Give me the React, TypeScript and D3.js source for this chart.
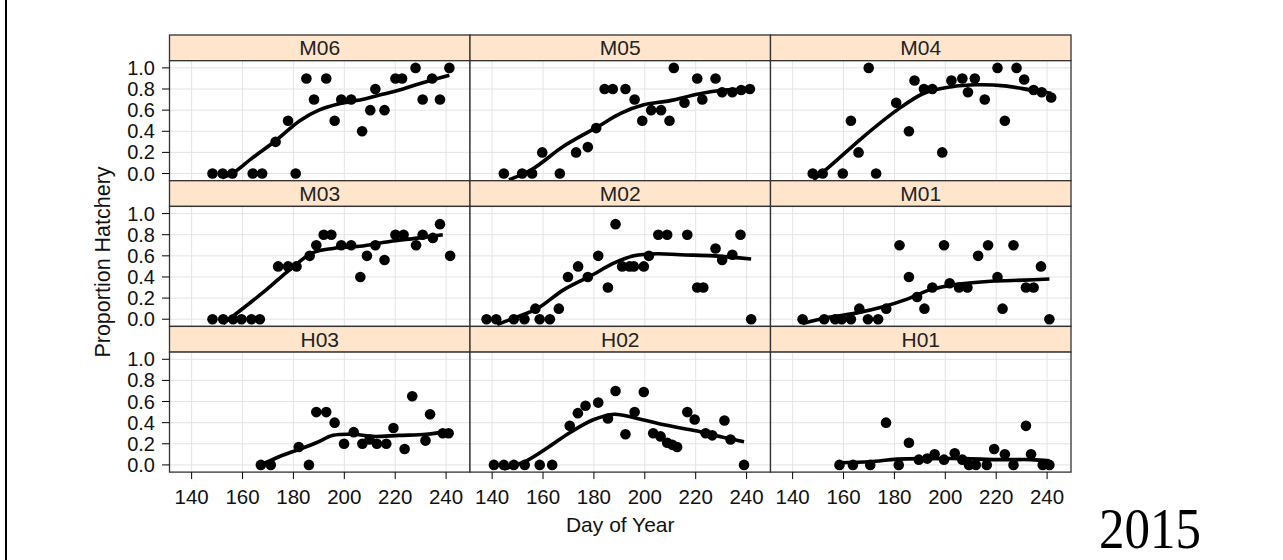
import React from "react";
import * as d3 from "d3";

// ---------- DATA ----------
const panelNames = ["M06", "M05", "M04", "M03", "M02", "M01", "H03", "H02", "H01"];
const xTicks = [140, 160, 180, 200, 220, 240];
const yTicks = [0, 0.2, 0.4, 0.6, 0.8, 1.0];
const yearLabel = "2015";

const m06Points: [number, number][] = [
  [148.2, 0], [152.2, 0], [156, 0], [164, 0], [167.7, 0], [173, 0.3], [177.9, 0.5], [180.9, 0],
  [185.1, 0.9], [188.1, 0.7], [192.9, 0.9], [196.2, 0.5], [198.8, 0.7], [202.7, 0.7], [207, 0.4],
  [210.2, 0.6], [212.2, 0.8], [215.8, 0.6], [220.1, 0.9], [222.7, 0.9], [228, 1.0], [230.8, 0.7],
  [234.5, 0.9], [237.6, 0.7], [241.3, 1.0],
];
const m06Smooth: [number, number][] = [
  [152, -0.04], [156, 0.0], [164, 0.15], [173, 0.31], [182.5, 0.5], [190, 0.6], [198, 0.66],
  [207, 0.7], [215, 0.75], [221.7, 0.79], [229.5, 0.85], [241.3, 0.93],
];

const m05Points: [number, number][] = [
  [144.6, 0], [151.8, 0], [155.7, 0], [159.7, 0.2], [166.6, 0], [173, 0.2], [177.6, 0.25],
  [180.9, 0.43], [184.2, 0.8], [187.4, 0.8], [192.4, 0.8], [196, 0.7], [199, 0.5], [202.5, 0.6],
  [206.4, 0.6], [209.7, 0.5], [211.4, 1.0], [215.6, 0.67], [220.6, 0.9], [222.6, 0.7], [227.8, 0.9],
  [230.4, 0.77], [234.4, 0.77], [237.9, 0.79], [241.3, 0.8],
];
const m05Smooth: [number, number][] = [
  [146.6, -0.06], [155.7, 0.04], [168.2, 0.26], [181.3, 0.44], [190.5, 0.57], [199.6, 0.65],
  [210, 0.69], [220.6, 0.75], [231, 0.79], [241.6, 0.8],
];

const m04Points: [number, number][] = [
  [147.9, 0], [151.8, 0], [159.7, 0], [162.9, 0.5], [165.9, 0.2], [169.9, 1.0], [172.8, 0],
  [180.7, 0.67], [185.7, 0.4], [187.9, 0.88], [191.6, 0.8], [194.9, 0.8], [198.8, 0.2],
  [202.4, 0.88], [206.7, 0.9], [208.9, 0.77], [211.6, 0.9], [215.5, 0.7], [220.5, 1.0],
  [223.4, 0.5], [228, 1.0], [231, 0.89], [234.7, 0.79], [237.9, 0.77], [241.6, 0.72],
];
const m04Smooth: [number, number][] = [
  [148.2, -0.06], [154.7, 0.07], [167.9, 0.35], [181, 0.6], [191.6, 0.76], [202, 0.82],
  [212.6, 0.84], [223.2, 0.83], [233.7, 0.79], [241.6, 0.76],
];

const m03Points: [number, number][] = [
  [148.2, 0], [152.4, 0], [156.3, 0], [159.6, 0], [163.5, 0], [166.8, 0], [174, 0.5], [177.9, 0.5],
  [181.2, 0.5], [186.4, 0.6], [189, 0.7], [191.9, 0.8], [194.9, 0.8], [198.8, 0.7], [202.7, 0.7],
  [206.3, 0.4], [208.9, 0.6], [212.2, 0.7], [215.8, 0.56], [220.1, 0.8], [223.3, 0.8], [228.2, 0.7],
  [230.8, 0.8], [234.8, 0.77], [237.6, 0.9], [241.6, 0.6],
];
const m03Smooth: [number, number][] = [
  [152.4, -0.04], [156.3, 0.03], [169.4, 0.28], [178.6, 0.47], [187.7, 0.63], [195.6, 0.67],
  [206, 0.69], [219, 0.74], [229.5, 0.77], [238.7, 0.8],
];

const m02Points: [number, number][] = [
  [137.8, 0], [141.6, 0], [148.5, 0], [152.7, 0], [157, 0.1], [158.7, 0], [162.7, 0], [166.2, 0.1],
  [169.8, 0.4], [173.8, 0.5], [177.6, 0.4], [181.7, 0.6], [185.5, 0.3], [188.5, 0.9], [191.1, 0.5],
  [194, 0.5], [195.7, 0.5], [199.6, 0.5], [201.6, 0.6], [205.3, 0.8], [208.8, 0.8], [216.7, 0.8],
  [220.6, 0.3], [223, 0.3], [227.8, 0.67], [230.4, 0.56], [234.4, 0.61], [237.6, 0.8], [241.8, 0],
];
const m02Smooth: [number, number][] = [
  [142, -0.05], [148.5, 0.01], [157.7, 0.1], [168.2, 0.28], [178.7, 0.41], [187.8, 0.53],
  [195.7, 0.6], [204.9, 0.62], [214, 0.61], [227.2, 0.6], [241.8, 0.57],
];

const m01Points: [number, number][] = [
  [143.9, 0], [152.4, 0], [156.7, 0], [159.3, 0], [162.9, 0], [166.2, 0.1], [169.6, 0], [173.6, 0],
  [176.8, 0.1], [182, 0.7], [185.7, 0.4], [188.9, 0.21], [191.8, 0.1], [194.9, 0.3], [199.5, 0.7],
  [201.7, 0.34], [205.4, 0.3], [208.7, 0.3], [212.9, 0.6], [216.8, 0.7], [220.5, 0.4], [222.5, 0.1],
  [226.8, 0.7], [231.7, 0.3], [234.7, 0.3], [237.6, 0.5], [240.9, 0],
];
const m01Smooth: [number, number][] = [
  [143.9, -0.04], [154.7, 0.02], [165.3, 0.06], [174.5, 0.11], [185, 0.19], [194.2, 0.28],
  [204.7, 0.33], [217.9, 0.36], [231, 0.37], [240.9, 0.38],
];

const h03Points: [number, number][] = [
  [167.2, 0], [171.1, 0], [182.1, 0.17], [186.1, 0], [189, 0.5], [192.9, 0.5], [196.2, 0.4],
  [199.9, 0.2], [203.7, 0.31], [207.1, 0.2], [209.9, 0.24], [212.8, 0.2], [216.5, 0.2],
  [219.3, 0.35], [223.7, 0.15], [226.7, 0.65], [231.9, 0.23], [233.7, 0.48], [238.7, 0.3], [241, 0.3],
];
const h03Smooth: [number, number][] = [
  [167.2, 0], [174.6, 0.08], [182.5, 0.15], [189, 0.21], [195.6, 0.28], [203.4, 0.29],
  [211.2, 0.27], [221.7, 0.28], [232.2, 0.29], [241.3, 0.32],
];

const h02Points: [number, number][] = [
  [140.7, 0], [144.6, 0], [148.5, 0], [152.8, 0], [158.7, 0], [163.6, 0], [170.5, 0.37],
  [173.7, 0.49], [176.7, 0.56], [181.7, 0.59], [185.5, 0.44], [188.5, 0.7], [192.4, 0.29],
  [196, 0.5], [199.6, 0.69], [203.3, 0.3], [206.2, 0.27], [208.8, 0.21], [210.8, 0.19],
  [212.7, 0.17], [216.7, 0.5], [219.6, 0.43], [223.9, 0.3], [226.5, 0.28], [231.3, 0.42],
  [233.7, 0.24], [239, 0],
];
const h02Smooth: [number, number][] = [
  [144.6, -0.04], [152.8, 0.03], [161.6, 0.16], [170.8, 0.31], [180, 0.43], [188, 0.48],
  [197, 0.44], [207.5, 0.38], [220.6, 0.32], [231.1, 0.26], [239, 0.22],
];

const h01Points: [number, number][] = [
  [158.4, 0], [163.7, 0], [170.5, 0], [176.7, 0.4], [181.7, 0], [185.7, 0.21], [189.6, 0.05],
  [192.9, 0.06], [195.8, 0.1], [199.5, 0.05], [203.7, 0.11], [206.7, 0.05], [209.3, 0], [212, 0],
  [216.3, 0], [219.2, 0.15], [223.4, 0.1], [226.8, 0], [231.7, 0.37], [233.7, 0.1], [238.3, 0],
  [240.9, 0],
];
const h01Smooth: [number, number][] = [
  [158.4, 0.02], [170.5, 0.03], [181, 0.055], [194.2, 0.06], [207.4, 0.06], [220.5, 0.05],
  [233.7, 0.05], [240.9, 0.04],
];

const panelPoints = [m06Points, m05Points, m04Points, m03Points, m02Points, m01Points, h03Points, h02Points, h01Points];
const panelSmooth = [m06Smooth, m05Smooth, m04Smooth, m03Smooth, m02Smooth, m01Smooth, h03Smooth, h02Smooth, h01Smooth];

// ---------- LAYOUT ----------
const W = 1283;
const H = 560;
const left0 = 169.5;
const panelW = 300.5;
const top0 = 35;
const stripH = 25.7;
const panelH = 120;
const rowH = stripH + panelH;
const font = "'Liberation Sans', Arial, sans-serif";

const x = d3.scaleLinear().domain([131.3, 249.4]).range([0, panelW]);
const y = d3.scaleLinear().domain([-0.068, 1.068]).range([panelH, 0]);
const line = d3
  .line<[number, number]>()
  .x((d) => x(d[0]))
  .y((d) => y(d[1]))
  .curve(d3.curveCatmullRom.alpha(0.5));

export default function App() {
  const bottom = top0 + 3 * rowH;
  return (
    <svg
      width={W}
      height={H}
      style={{ position: "absolute", left: 0, top: 0, background: "#fff" }}
      fontFamily={font}
    >
      <rect x={0} y={0} width={W} height={H} fill="#fff" />
      <line x1={6} x2={6} y1={0} y2={H} stroke="#000" strokeWidth={2} />
      {panelNames.map((name, i) => {
        const col = i % 3;
        const row = Math.floor(i / 3);
        const px = left0 + col * panelW;
        const sy = top0 + row * rowH;
        const py = sy + stripH;
        return (
          <g key={name}>
            {/* strip */}
            <rect x={px} y={sy} width={panelW} height={stripH} fill="#ffe5cc" stroke="#333" strokeWidth={1.3} />
            <text x={px + panelW / 2} y={sy + stripH / 2 + 7.5} textAnchor="middle" fontSize={21} fill="#222">
              {name}
            </text>
            {/* panel */}
            <g transform={`translate(${px},${py})`}>
              <rect x={0} y={0} width={panelW} height={panelH} fill="#fff" />
              {xTicks.map((t) => (
                <line key={"gx" + t} x1={x(t)} x2={x(t)} y1={0} y2={panelH} stroke="#e4e4e4" strokeWidth={1} />
              ))}
              {yTicks.map((t) => (
                <line key={"gy" + t} x1={0} x2={panelW} y1={y(t)} y2={y(t)} stroke="#e4e4e4" strokeWidth={1} />
              ))}
              <path d={line(panelSmooth[i]) || ""} fill="none" stroke="#000" strokeWidth={3.6} strokeLinejoin="round" />
              {panelPoints[i].map((p, k) => (
                <circle key={k} cx={x(p[0])} cy={y(p[1])} r={5.3} fill="#000" />
              ))}
              <rect x={0} y={0} width={panelW} height={panelH} fill="none" stroke="#333" strokeWidth={1.3} />
            </g>
            {/* y axis on first column */}
            {col === 0 &&
              yTicks.map((t) => (
                <g key={"yt" + t}>
                  <line x1={px - 7.5} x2={px} y1={py + y(t)} y2={py + y(t)} stroke="#000" strokeWidth={1} />
                  <text x={px - 14.5} y={py + y(t) + 7} textAnchor="end" fontSize={20} fill="#111">
                    {t.toFixed(1)}
                  </text>
                </g>
              ))}
            {/* x axis on bottom row */}
            {row === 2 &&
              xTicks.map((t) => (
                <g key={"xt" + t}>
                  <line x1={px + x(t)} x2={px + x(t)} y1={bottom} y2={bottom + 7} stroke="#000" strokeWidth={1} />
                  <text x={px + x(t)} y={bottom + 32} textAnchor="middle" fontSize={20.5} fill="#111">
                    {t}
                  </text>
                </g>
              ))}
          </g>
        );
      })}
      <text
        transform={`translate(110,262) rotate(-90)`}
        textAnchor="middle"
        fontSize={21.5}
        fill="#111"
      >
        Proportion Hatchery
      </text>
      <text x={left0 + 1.5 * panelW} y={532} textAnchor="middle" fontSize={21} fill="#111">
        Day of Year
      </text>
      <text
        transform="translate(1150,548) scale(1,1.1)"
        textAnchor="middle"
        fontFamily="'Liberation Serif', 'Times New Roman', serif"
        fontSize={51}
        fill="#000"
      >
        {yearLabel}
      </text>
    </svg>
  );
}
